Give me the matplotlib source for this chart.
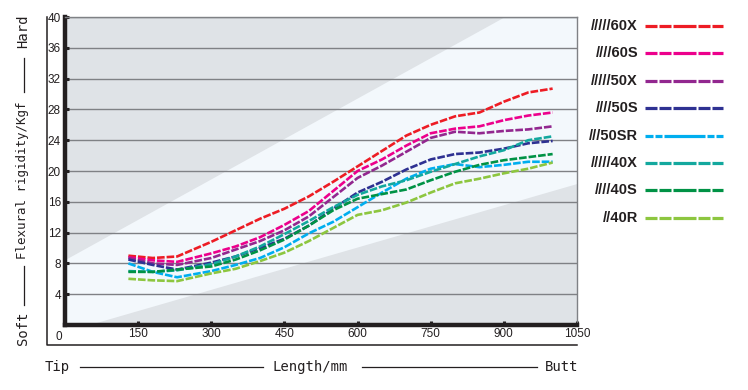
import matplotlib
matplotlib.use("Agg")
import matplotlib.pyplot as plt
from matplotlib.lines import Line2D
from matplotlib.patches import Polygon

plt.rcParams['lines.scale_dashes'] = False

# ---------------- data ----------------
length_mm = [130, 180, 230, 300, 350, 400, 450, 500, 550, 600, 650, 700, 750, 800, 850, 900, 950, 1000]

s_60X  = [9.0, 8.7, 8.9, 10.8, 12.3, 13.8, 15.1, 16.7, 18.6, 20.6, 22.6, 24.6, 26.0, 27.1, 27.6, 29.0, 30.2, 30.7]
s_60S  = [8.8, 8.4, 8.2, 9.3, 10.2, 11.4, 13.0, 14.8, 17.4, 20.0, 21.5, 23.3, 24.9, 25.5, 25.8, 26.6, 27.2, 27.6]
s_50X  = [8.7, 8.0, 7.8, 8.7, 9.8, 10.9, 12.3, 14.1, 16.6, 19.1, 20.7, 22.5, 24.3, 25.1, 24.9, 25.2, 25.4, 25.8]
s_50S  = [8.5, 7.8, 7.2, 8.1, 8.9, 10.0, 11.2, 12.9, 15.1, 17.2, 18.6, 20.2, 21.5, 22.2, 22.4, 22.9, 23.6, 23.9]
s_50SR = [8.0, 6.9, 6.2, 7.0, 7.8, 8.7, 10.1, 11.9, 13.4, 15.3, 17.2, 19.0, 20.3, 20.9, 20.5, 20.8, 21.2, 21.2]
s_40X  = [7.0, 6.9, 7.1, 7.9, 8.9, 10.2, 11.8, 13.5, 15.3, 16.9, 18.0, 18.8, 19.9, 20.9, 21.9, 22.7, 24.0, 24.5]
s_40S  = [6.9, 6.9, 7.2, 7.6, 8.5, 9.7, 11.1, 12.9, 14.9, 16.4, 17.0, 17.6, 18.8, 19.9, 20.8, 21.4, 21.8, 22.2]
s_40R  = [6.0, 5.8, 5.7, 6.7, 7.3, 8.3, 9.4, 10.9, 12.6, 14.3, 14.9, 15.9, 17.2, 18.4, 19.0, 19.7, 20.3, 21.1]

series_names = ["/////60X", "////60S", "/////50X", "////50S", "///50SR", "/////40X", "////40S", "//40R"]
series_vals = [s_60X, s_60S, s_50X, s_50S, s_50SR, s_40X, s_40S, s_40R]
colors = ["#ed1c24", "#ec008c", "#92278f", "#2e3192", "#00aeef", "#13a89e", "#009245", "#8dc63f"]

x_ticks = [150, 300, 450, 600, 750, 900, 1050]
y_ticks = [4, 8, 12, 16, 20, 24, 28, 32, 36, 40]

# ---------------- figure ----------------
W, H = 748, 390
fig = plt.figure(figsize=(W / 100, H / 100), dpi=100)
L, R, T, B = 65, 577, 17, 325
ax = fig.add_axes([L / W, 1 - B / H, (R - L) / W, (B - T) / H])
ax.set_xlim(0, 1050)
ax.set_ylim(0, 40)

# background
ax.set_facecolor("#dfe3e7")
band = Polygon([(0, 0), (51, 0), (1050, 18.3), (1050, 40), (903, 40), (0, 8.4)],
               closed=True, facecolor="#f3f8fc", edgecolor="none", zorder=0)
ax.add_patch(band)

# grid
for yv in y_ticks:
    ax.axhline(yv, color="#7f8185", lw=1.0, zorder=1)

# lines
for vals, c in zip(series_vals, colors):
    ax.plot(length_mm, vals, color=c, lw=1.9, dashes=(5.5, 1.4), zorder=3,
            solid_capstyle='butt', dash_capstyle='butt')

# spines
for s in ["top", "right"]:
    ax.spines[s].set_color("#7f8185")
    ax.spines[s].set_linewidth(1.0)
ax.spines["left"].set_color("#231f20")
ax.spines["left"].set_linewidth(3.2)
ax.spines["bottom"].set_color("#231f20")
ax.spines["bottom"].set_linewidth(3.2)

tick_font = dict(family=["Liberation Sans", "DejaVu Sans"], size=8.5, color="#231f20")
ax.set_xticks(x_ticks)
ax.set_xticklabels([str(v) for v in x_ticks], **tick_font)
ax.set_yticks(y_ticks)
ax.set_yticklabels([str(v) for v in y_ticks], **tick_font)
ax.tick_params(axis="both", direction="in", length=3, width=2.2, color="#231f20", pad=3)
ax.tick_params(axis="x", pad=2.5)
ax.text(-0.006, -0.018, "0", transform=ax.transAxes, ha="right", va="top", **tick_font)

# outer L-frame
fig.add_artist(Line2D([47 / W, 47 / W, 577 / W], [1 - 17 / H, 1 - 345 / H, 1 - 345 / H],
                      transform=fig.transFigure, color="#231f20", lw=1.1))

mono = dict(family=["DejaVu Sans Mono"], color="#231f20")
# x axis label row
yrow = 1 - 367 / H
fig.text(45 / W, yrow, "Tip", ha="left", va="center", size=10, **mono)
fig.text(273 / W, yrow, "Length/mm", ha="left", va="center", size=10, **mono)
fig.text(578 / W, yrow, "Butt", ha="right", va="center", size=10, **mono)
fig.add_artist(Line2D([80 / W, 263 / W], [yrow, yrow], transform=fig.transFigure, color="#231f20", lw=0.9))
fig.add_artist(Line2D([362 / W, 537 / W], [yrow, yrow], transform=fig.transFigure, color="#231f20", lw=0.9))

# y axis label column
xcol = 23 / W
fig.text(xcol, 1 - 345 / H, "Soft", rotation=90, ha="center", va="bottom", size=10, **mono)
fig.text(xcol, 1 - 180 / H, "Flexural rigidity/Kgf", rotation=90, ha="center", va="center", size=9, **mono)
fig.text(xcol, 1 - 15 / H, "Hard", rotation=90, ha="center", va="top", size=10, **mono)
fig.add_artist(Line2D([xcol + 0.5 / W, xcol + 0.5 / W], [1 - 266 / H, 1 - 305 / H], transform=fig.transFigure, color="#231f20", lw=0.9))
fig.add_artist(Line2D([xcol + 0.5 / W, xcol + 0.5 / W], [1 - 58 / H, 1 - 92 / H], transform=fig.transFigure, color="#231f20", lw=0.9))

# legend (manual)
leg_y0, leg_dy = 26, 27.4
for i, (name, c) in enumerate(zip(series_names, colors)):
    yy = 1 - (leg_y0 + i * leg_dy) / H
    fig.text(638 / W, yy, name, ha="right", va="center", size=10.5, weight="bold",
             family=["Liberation Sans", "DejaVu Sans"], color="#231f20")
    if name == "///50SR":
        dash = [8, 2, 7, 2, 41, 2, 7, 2, 9, 100]
    else:
        dash = [12, 2, 12, 2, 23, 2, 12, 2, 12, 100]
    ln = Line2D([645 / W, 723 / W], [yy, yy], transform=fig.transFigure, color=c, lw=2.3,
                dash_capstyle='butt', solid_capstyle='butt')
    ln.set_dashes([d * 0.72 for d in dash])
    fig.add_artist(ln)

fig.savefig("out.png", dpi=100)
